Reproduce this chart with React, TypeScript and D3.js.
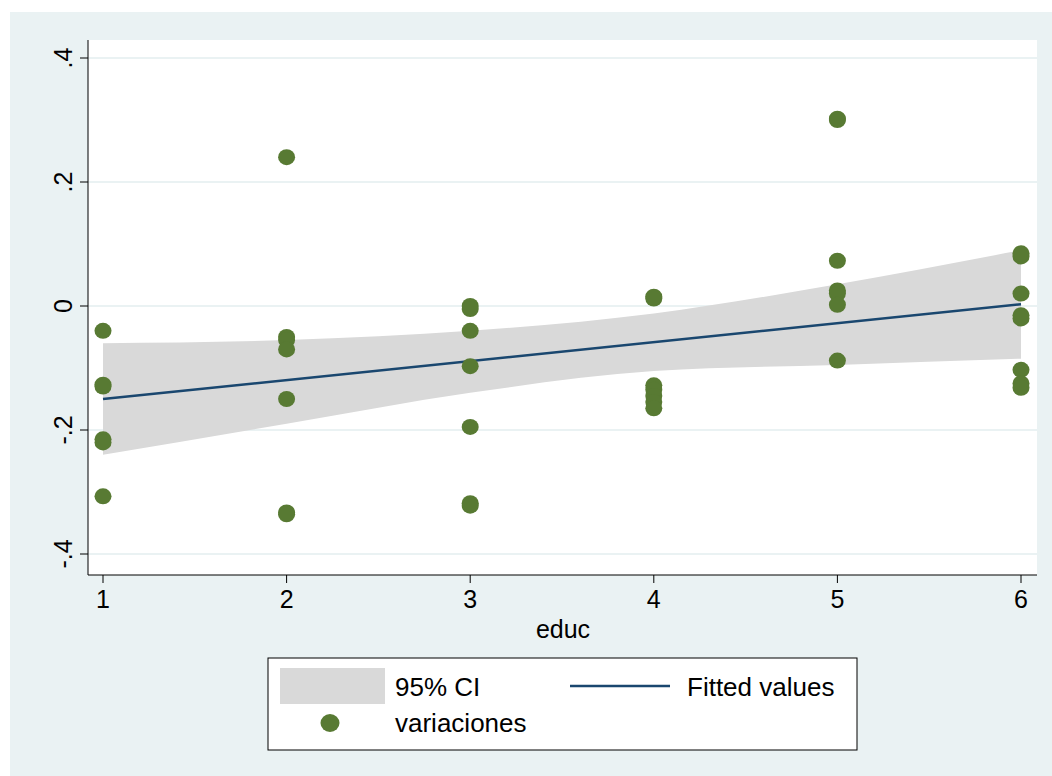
import * as d3 from "d3"

const educ = [1, 2, 3, 4, 5, 6]
const ciUpper = [-0.06, -0.055, -0.04, -0.012, 0.035, 0.09]
const ciLower = [-0.24, -0.19, -0.14, -0.105, -0.095, -0.085]
const fitStart = -0.15
const fitEnd = 0.003
const points: [number, number][] = [
  [1, -0.04], [1, -0.13], [1, -0.127], [1, -0.215], [1, -0.22], [1, -0.307],
  [2, 0.24], [2, -0.05], [2, -0.055], [2, -0.07], [2, -0.15], [2, -0.333], [2, -0.336],
  [3, 0], [3, -0.005], [3, -0.04], [3, -0.097], [3, -0.195], [3, -0.318], [3, -0.322],
  [4, 0.012], [4, 0.015], [4, -0.128], [4, -0.135], [4, -0.145], [4, -0.155], [4, -0.165],
  [5, 0.3], [5, 0.302], [5, 0.073], [5, 0.025], [5, 0.02], [5, 0.002], [5, -0.088],
  [6, 0.08], [6, 0.085], [6, 0.02], [6, -0.015], [6, -0.02], [6, -0.103], [6, -0.125], [6, -0.132],
]
const yTicks = [-0.4, -0.2, 0, 0.2, 0.4]

const green = "#587a33"
const navy = "#1a476f"
const bg = "#eaf2f3"

export default function App() {
  const x = d3.scaleLinear().domain([1, 6]).range([103, 1021])
  const y = d3.scaleLinear().domain([-0.4, 0.4]).range([554, 58])
  const area = d3
    .area<number>()
    .x((d) => x(d))
    .y0((_, i) => y(ciLower[i]))
    .y1((_, i) => y(ciUpper[i]))
    .curve(d3.curveMonotoneX)
  const fmt = (v: number) => (v === 0 ? "0" : v.toFixed(1).replace("0.", "."))
  const font = "Liberation Sans, Arial, sans-serif"

  return (
    <svg width={1052} height={776} style={{ position: "absolute", left: 0, top: 0 }} fontFamily={font}>
      <rect x={0} y={0} width={1052} height={776} fill="#fff" />
      <rect x={10} y={12} width={1042} height={764} fill={bg} />
      <rect x={88} y={40} width={949} height={535} fill="#fff" />
      {yTicks.map((t) => (
        <line key={t} x1={88} x2={1037} y1={y(t)} y2={y(t)} stroke={bg} strokeWidth={2} />
      ))}
      <path d={area(educ) ?? ""} fill="#d9d9d9" />
      <line x1={x(1)} x2={x(6)} y1={y(fitStart)} y2={y(fitEnd)} stroke={navy} strokeWidth={2.5} />
      {points.map(([a, b], i) => (
        <ellipse key={i} cx={x(a)} cy={y(b)} rx={8.5} ry={8} fill={green} />
      ))}
      <line x1={88} x2={88} y1={40} y2={575} stroke="#000" />
      <line x1={88} x2={1037} y1={575} y2={575} stroke="#000" />
      {yTicks.map((t) => (
        <g key={t}>
          <line x1={80} x2={88} y1={y(t)} y2={y(t)} stroke="#000" />
          <text transform={`translate(72,${y(t)}) rotate(-90)`} textAnchor="middle" fontSize={25}>
            {fmt(t)}
          </text>
        </g>
      ))}
      {educ.map((t) => (
        <g key={t}>
          <line x1={x(t)} x2={x(t)} y1={575} y2={583} stroke="#000" />
          <text x={x(t)} y={608} textAnchor="middle" fontSize={25}>
            {t}
          </text>
        </g>
      ))}
      <text x={563} y={638} textAnchor="middle" fontSize={25}>educ</text>
      <rect x={268} y={658} width={589} height={92} fill="#fff" stroke="#000" />
      <rect x={280} y={668} width={105} height={36} fill="#d9d9d9" />
      <text x={395} y={696} fontSize={26}>95% CI</text>
      <line x1={570} x2={670} y1={686} y2={686} stroke={navy} strokeWidth={2.5} />
      <text x={687} y={696} fontSize={26}>Fitted values</text>
      <ellipse cx={330} cy={723} rx={9.5} ry={9} fill={green} />
      <text x={395} y={732} fontSize={26}>variaciones</text>
    </svg>
  )
}
